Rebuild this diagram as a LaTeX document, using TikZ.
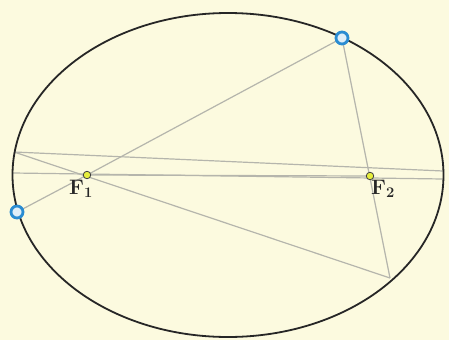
\documentclass[tikz,border=0pt]{standalone}
\usepackage{fontspec}
\definecolor{bgcream}{HTML}{FCFADF}
\definecolor{raygray}{HTML}{B5B5AC}
\definecolor{ptblue}{HTML}{2A8CD2}
\definecolor{focyellow}{HTML}{E6EE3C}
\tikzset{
  ray/.style={draw=raygray, line width=1.2pt},
  bluept/.style={circle, draw=ptblue, line width=2.8pt, fill=ptblue!15, minimum size=12pt, inner sep=0pt},
  focus/.style={circle, draw=black!75, line width=0.8pt, fill=focyellow, minimum size=7.5pt, inner sep=0pt},
  flabel/.style={font=\fontsize{21}{23}\selectfont\bfseries, text=black!85, inner sep=0pt}
}
\begin{document}
\begin{tikzpicture}[x=1pt,y=-1pt]
\fill[bgcream] (0,0) rectangle (449,340);
\useasboundingbox (0,0) rectangle (449,340);
\coordinate (L1) at (14,152);
\coordinate (L2) at (13,173);
\coordinate (R1) at (443,171);
\coordinate (R2) at (443,179);
\coordinate (B) at (390,278);
\coordinate (cF1) at (87,175);
\coordinate (cF2) at (370,176);
\coordinate (cP) at (342,38);
\coordinate (cQ) at (17,212);
% rays
\draw[ray] (cQ) -- (cF1);
\draw[ray] (cP) -- (cF1);
\draw[ray] (cP) -- (B);
\draw[ray] (B) -- (L1);
\draw[ray] (L1) -- (R1);
\draw[ray] (L2) -- (R2);
\draw[ray] (cF1) -- (cF2);
% ellipse
\draw[line width=1.8pt, draw=black!85] (228,175) ellipse [x radius=215.5, y radius=162];
% points
\node[bluept] (P) at (cP) {};
\node[bluept] (Q) at (cQ) {};
\node[focus] (F1) at (cF1) {};
\node[focus] (F2) at (cF2) {};
\node[flabel] (t1) at (81,189) {F\textsubscript{1}};
\node[flabel] (t2) at (383,189) {F\textsubscript{2}};
\end{tikzpicture}
\end{document}
